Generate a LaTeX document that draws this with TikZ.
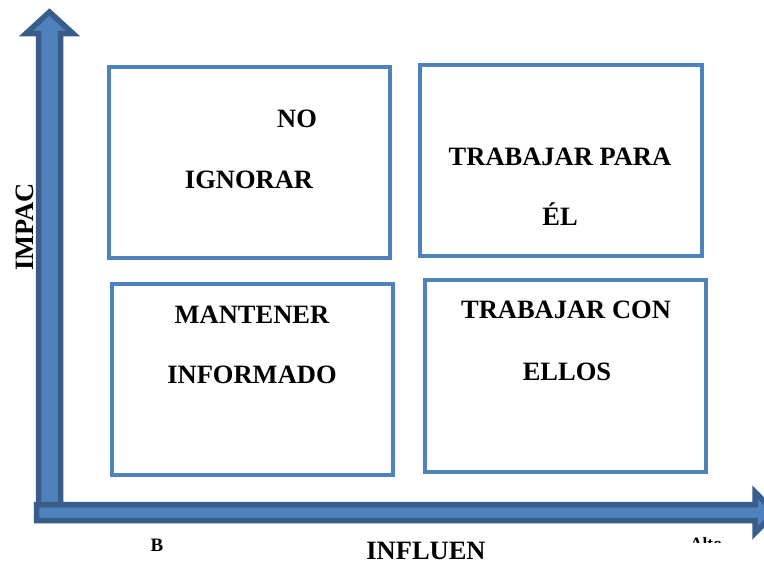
\documentclass[tikz,border=0pt]{standalone}
\usepackage{fontspec}
\setmainfont{Liberation Serif}
\usetikzlibrary{positioning}
\definecolor{axisFill}{HTML}{4F81BD}
\definecolor{axisLine}{HTML}{385D8A}
\definecolor{boxLine}{HTML}{4F81BD}
\tikzset{%
  % Specifications for style of nodes:
          base/.style = {inner sep=0pt, text=black,
                         font=\bfseries\fontsize{13.25}{16}\selectfont},
      quadrant/.style = {rectangle, draw=boxLine, line width=2pt,
                         minimum width=140.5pt, minimum height=95.5pt},
     textLabel/.style = {base, anchor=base},
    smallLabel/.style = {textLabel, font=\bfseries\fontsize{9.5}{11}\selectfont},
          axis/.style = {fill=axisFill, draw=axisLine, line width=2.75pt},
}

\begin{document}
\begin{tikzpicture}[x=0.5pt, y=-0.5pt]
  \useasboundingbox (0,0) rectangle (764,563);
  % Axes (block arrows)
  \draw[axis] (38.5,520) -- (38.5,33.5) -- (26,33.5) -- (49.5,12) -- (73,33.5)
              -- (60.5,33.5) -- (60.5,520) -- cycle;
  \draw[axis] (36.5,504.5) -- (755,504.5) -- (755,492) -- (775,512.5)
              -- (755,533) -- (755,520.5) -- (36.5,520.5) -- cycle;
  % Specification of the four quadrants
  \node (noIgnorar)      [quadrant] at (249.5,162.5) {};
  \node (trabajarPara)   [quadrant, minimum width=141pt] at (561,160.5) {};
  \node (mantener)       [quadrant] at (252.5,379.5) {};
  \node (trabajarCon)    [quadrant, minimum height=96pt] at (565.5,376) {};
  % Texts inside the quadrants
  \node (noText)         [textLabel] at (297,127)   {NO};
  \node (ignorarText)    [textLabel] at (249,188)   {IGNORAR};
  \node (paraText)       [textLabel] at (560,165)   {TRABAJAR PARA};
  \node (elText)         [textLabel] at (560,225)   {ÉL};
  \node (mantenerText)   [textLabel] at (252,323)   {MANTENER};
  \node (informadoText)  [textLabel] at (252,383)   {INFORMADO};
  \node (conText)        [textLabel] at (566,318)   {TRABAJAR CON};
  \node (ellosText)      [textLabel] at (567,380)   {ELLOS};
  % Axis labels
  \node (impacLabel)     [textLabel, rotate=90] at (33,227) {IMPAC};
  \node (influenLabel)   [textLabel] at (426,559) {INFLUEN};
  \node (bajoLabel)      [smallLabel] at (157,551) {B};
  \begin{scope}
    \clip (660,530) rectangle (764,542.5);
    \node (altoLabel)    [smallLabel, font=\bfseries\fontsize{8.7}{10}\selectfont]
                         at (706,549) {Alto};
  \end{scope}
\end{tikzpicture}
\end{document}
